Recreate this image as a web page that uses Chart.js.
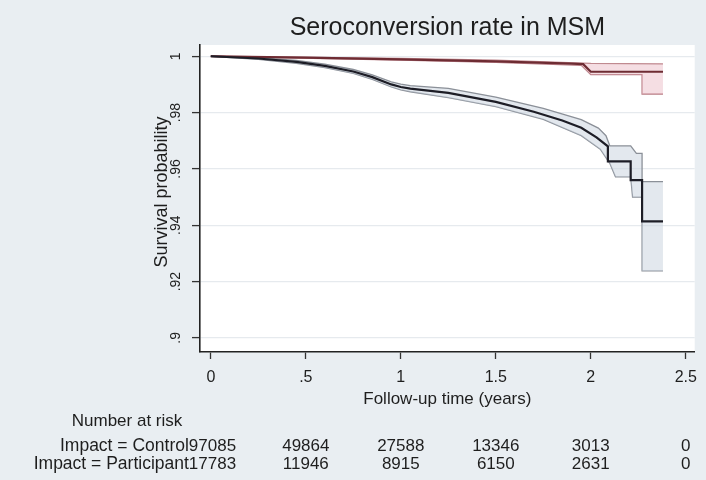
<!DOCTYPE html>
<html>
<head>
<meta charset="utf-8">
<script src="https://cdn.jsdelivr.net/npm/chart.js@4"></script>
<style>
  body { margin: 0; background: #e9eef2; }
  canvas { display: block; }
</style>
</head>
<body>
<canvas id="kmChart" width="706" height="480"></canvas>
<script>
// axis ticks
const xTicks = [0, 0.5, 1, 1.5, 2, 2.5];
const xTickLabels = ['0', '.5', '1', '1.5', '2', '2.5'];
const yTicks = [0.9, 0.92, 0.94, 0.96, 0.98, 1];
const yTickLabels = ['.9', '.92', '.94', '.96', '.98', '1'];

// Impact = Participant (estimate + 95% CI)
const partTime = [0, 0.25, 0.45, 0.6, 0.75, 0.85, 0.95, 1.0, 1.05, 1.25, 1.5, 1.7, 1.85, 1.95, 2.03, 2.09, 2.09, 2.21, 2.21, 2.27, 2.27, 2.38];
const partSurv = [1, 0.9992, 0.9980, 0.9966, 0.9946, 0.9926, 0.9900, 0.9891, 0.9885, 0.9870, 0.9838, 0.9803, 0.9772, 0.9746, 0.9712, 0.9680, 0.9627, 0.9627, 0.9560, 0.9560, 0.9414, 0.9414];
const partHiTime = [0, 0.25, 0.45, 0.6, 0.75, 0.85, 0.95, 1.0, 1.05, 1.25, 1.5, 1.75, 1.95, 2.04, 2.08, 2.1, 2.21, 2.24, 2.27, 2.27, 2.38];
const partHi = [1, 0.9995, 0.9985, 0.9972, 0.9953, 0.9934, 0.9909, 0.9901, 0.9896, 0.9886, 0.9855, 0.9815, 0.9775, 0.9745, 0.9718, 0.9682, 0.9682, 0.9655, 0.9655, 0.9555, 0.9555];
const partLoTime = [0, 0.25, 0.45, 0.6, 0.75, 0.85, 0.95, 1.0, 1.05, 1.25, 1.5, 1.75, 1.95, 2.05, 2.1, 2.13, 2.21, 2.22, 2.27, 2.27, 2.38];
const partLo = [1, 0.9989, 0.9975, 0.9960, 0.9939, 0.9918, 0.9891, 0.9881, 0.9874, 0.9853, 0.9821, 0.9776, 0.9718, 0.9670, 0.9620, 0.9572, 0.9572, 0.9500, 0.9500, 0.9238, 0.9238];

// Impact = Control (estimate + 95% CI)
const ctrlTime = [0, 0.5, 1, 1.5, 1.9, 1.96, 2.0, 2.38];
const ctrlSurv = [1, 0.9995, 0.9989, 0.9982, 0.9974, 0.9972, 0.9945, 0.9945];
const ctrlHiTime = [0, 1, 1.5, 2.0, 2.38];
const ctrlHi = [1, 0.9992, 0.9986, 0.9975, 0.9973];
const ctrlLoTime = [0, 1, 1.5, 1.95, 2.0, 2.27, 2.27, 2.38];
const ctrlLo = [1, 0.9986, 0.9978, 0.9968, 0.9935, 0.9935, 0.9866, 0.9866];

// number at risk table
const riskTimes = [0, 0.5, 1, 1.5, 2, 2.5];
const riskGroups = ['Impact = Control', 'Impact = Participant'];
const ctrlAtRisk = [97085, 49864, 27588, 13346, 3013, 0];
const partAtRisk = [17783, 11946, 8915, 6150, 2631, 0];

const FONT = '"Liberation Sans", Arial, sans-serif';
const TEXT = '#1e1e1e';

function pts(ts, vs) {
    return ts.map((t, i) => ({ x: t, y: vs[i] }));
}

function line(data, color, width, extra) {
    return Object.assign({
        data: data,
        borderColor: color,
        borderWidth: width,
        pointRadius: 0,
        tension: 0,
        fill: false
    }, extra || {});
}

const extras = {
    id: 'extras',
    beforeDraw(chart) {
        const { ctx, chartArea: a } = chart;
        ctx.save();
        ctx.fillStyle = '#e9eef2';
        ctx.fillRect(0, 0, chart.width, chart.height);
        ctx.fillStyle = '#ffffff';
        ctx.fillRect(a.left, a.top, a.right - a.left, a.bottom - a.top);
        ctx.restore();
    },
    afterDraw(chart) {
        const { ctx, chartArea: a } = chart;
        const xs = chart.scales.x, ys = chart.scales.y;
        const cx = (a.left + a.right) / 2;
        ctx.save();
        ctx.fillStyle = TEXT;
        ctx.textBaseline = 'middle';

        // title
        ctx.textAlign = 'center';
        ctx.font = '25px ' + FONT;
        ctx.fillText('Seroconversion rate in MSM', cx, 28);

        // y tick labels (vertical, Stata style)
        ctx.font = '14px ' + FONT;
        yTicks.forEach((v, i) => {
            ctx.save();
            ctx.translate(176, ys.getPixelForValue(v));
            ctx.rotate(-Math.PI / 2);
            ctx.fillText(yTickLabels[i], 0, 0);
            ctx.restore();
        });

        // y axis title
        ctx.font = '18px ' + FONT;
        ctx.save();
        ctx.translate(162, 192);
        ctx.rotate(-Math.PI / 2);
        ctx.fillText('Survival probability', 0, 0);
        ctx.restore();

        // x axis title
        ctx.font = '17px ' + FONT;
        ctx.fillText('Follow-up time (years)', cx, 399);

        // number at risk
        ctx.fillText('Number at risk', 127, 421);
        [ctrlAtRisk, partAtRisk].forEach((row, r) => {
            const y = 446 + r * 18;
            row.forEach((n, i) => {
                const px = xs.getPixelForValue(riskTimes[i]);
                if (i === 0) {
                    ctx.textAlign = 'left';
                    ctx.fillText(String(n), px - 22, y);
                    ctx.textAlign = 'right';
                    ctx.font = '17.5px ' + FONT;
                    ctx.fillText(riskGroups[r], px - 22, y);
                    ctx.font = '17px ' + FONT;
                    ctx.textAlign = 'center';
                } else {
                    ctx.fillText(String(n), px, y);
                }
            });
        });
        ctx.restore();
    }
};

new Chart(document.getElementById('kmChart').getContext('2d'), {
    type: 'line',
    data: {
        datasets: [
            line(pts(partTime, partSurv), '#1d1d26', 2.2),
            line(pts(ctrlTime, ctrlSurv), '#6e2c33', 2.2),
            line(pts(partHiTime, partHi), '#8b9098', 1.3, { fill: '+1', backgroundColor: 'rgba(200,209,222,0.5)' }),
            line(pts(partLoTime, partLo), '#8b9098', 1.3),
            line(pts(ctrlHiTime, ctrlHi), '#c08a90', 1.3, { fill: '+1', backgroundColor: 'rgba(236,190,200,0.5)' }),
            line(pts(ctrlLoTime, ctrlLo), '#b87c84', 1.3)
        ]
    },
    options: {
        responsive: false,
        animation: false,
        layout: { padding: { left: 200, top: 45, right: 6, bottom: 0 } },
        plugins: {
            legend: { display: false },
            title: { display: false },
            tooltip: { enabled: false }
        },
        scales: {
            x: {
                type: 'linear',
                min: -0.057,
                max: 2.547,
                afterBuildTicks: s => { s.ticks = xTicks.map(v => ({ value: v })); },
                afterFit: s => { s.height = 128; },
                ticks: {
                    color: TEXT,
                    font: { family: FONT, size: 16 },
                    padding: 9,
                    callback: (v) => xTickLabels[xTicks.indexOf(v)]
                },
                grid: { drawOnChartArea: false, tickLength: 7, tickColor: '#333', tickWidth: 1.3 },
                border: { color: '#222', width: 1.6 }
            },
            y: {
                type: 'linear',
                min: 0.895,
                max: 1.004,
                afterBuildTicks: s => { s.ticks = yTicks.map(v => ({ value: v })); },
                afterFit: s => { s.width = 0; },
                ticks: { display: false },
                grid: { color: '#e6eaee', lineWidth: 1.2, tickLength: 8, tickColor: '#333', tickWidth: 1.3 },
                border: { color: '#222', width: 1.6 }
            }
        }
    },
    plugins: [extras]
});
</script>
</body>
</html>
